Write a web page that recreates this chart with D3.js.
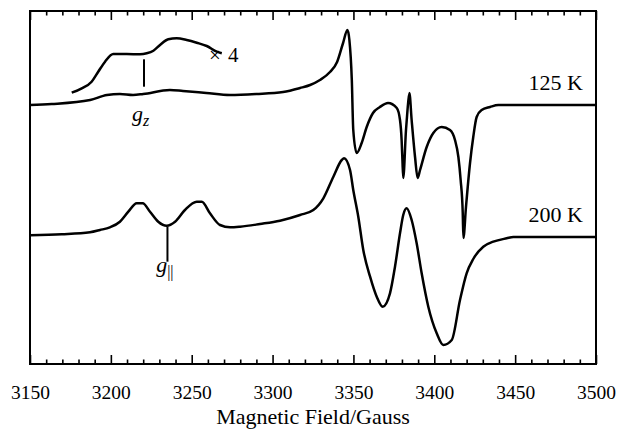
<!DOCTYPE html>
<html>
<head>
<meta charset="utf-8">
<script src="https://cdn.jsdelivr.net/npm/d3@7"></script>
<style>
  body { margin: 0; background: #fff; }
</style>
</head>
<body>
<svg id="chart" width="618" height="431"></svg>
<script>
// --- spectra (field in Gauss, intensity in arbitrary units above each baseline) ---
const field125 = [3150, 3163.4, 3187.2, 3197.6, 3205.6, 3213.7, 3220, 3236.5, 3244.6, 3259, 3273.7, 3290, 3306.5,
    3317, 3323.2, 3329.3, 3335.5, 3339.9, 3343.6, 3346.3, 3347.5, 3349, 3349.9, 3352, 3355.1, 3358.2, 3362.1,
    3366.4, 3371.4, 3376.8, 3378.8, 3379.8, 3380.3, 3380.8, 3382.5, 3383.3, 3384.6, 3386, 3388.1, 3389.7, 3391.2,
    3395.3, 3399.4, 3404.6, 3409.7, 3412.8, 3414.9, 3416.3, 3417.6, 3418, 3419.6, 3422.1, 3424.1, 3426.2, 3429.3,
    3434.5, 3439.6, 3500];
const signal125 = [0, 1, 5, 10, 11, 10, 11, 15, 14, 12, 10, 11, 13,
    17, 20, 25, 33, 43, 62, 75, 65, 25, -25, -48, -38, -22, -8,
    -2, 2, -3, -15, -35, -55, -73, -25, -8, 12, -15, -52, -73, -65,
    -42, -28, -22, -25, -35, -52, -75, -108, -133, -102, -58, -32, -12, -5,
    -2, 0, 0];

// x4 expansion of the low-field part of the 125 K trace
const fieldZoom = [3175.8, 3182, 3188.1, 3192.2, 3196.4, 3201.5, 3209.8, 3218, 3222.2, 3226.3, 3230.4, 3235.5,
    3240.7, 3246.9, 3253.1, 3259.3, 3265.5, 3268.6];
const signalZoom = [12.3, 16.7, 23.3, 33.3, 43.3, 51, 51, 50.7, 51.7, 54.3, 60, 65.7,
    66.7, 65, 62.3, 59, 53.3, 51.7];

const field200 = [3150, 3169.6, 3187.1, 3193.3, 3199.4, 3205.6, 3210.8, 3216, 3219.7, 3224.2, 3229.3, 3234.5,
    3239.7, 3245.8, 3253.1, 3256.2, 3261.3, 3267.5, 3273.7, 3279.9, 3292.2, 3304.6, 3317, 3325.2, 3331.4,
    3337.6, 3342.8, 3344.2, 3347.9, 3349.9, 3353, 3356.1, 3360.3, 3364.4, 3368.1, 3372.6, 3375.7, 3378.8,
    3380.8, 3382.9, 3386, 3389.1, 3392.2, 3396.3, 3401.5, 3405.6, 3410.8, 3415.9, 3420, 3424.1, 3430.3,
    3436.5, 3444.8, 3448.9, 3500];
const signal200 = [1.7, 2.7, 4.7, 7, 9.7, 15.3, 25.3, 33.7, 33.7, 25.3, 15.3, 11.3,
    15.3, 27, 35.3, 35.3, 23.7, 12, 9.7, 10.3, 13, 16.3, 22, 27, 38.7,
    60.3, 77, 78.7, 67, 47, 20.3, -13, -39.7, -59.7, -69.7, -56.3, -29.7, 3.7,
    22, 28.7, 17, -6.3, -36.3, -69.7, -96.3, -108, -103, -63, -36.3, -22, -9.7,
    -4.7, -1.3, 0, 0];

const offsets = { "125 K": 259, "200 K": 127 };
const xTicks = [3150, 3200, 3250, 3300, 3350, 3400, 3450, 3500];

const serif = "Liberation Serif";

const svg = d3.select("#chart"),
    margin = { top: 11, right: 22, bottom: 67, left: 30 },
    width = +svg.attr("width") - margin.left - margin.right,
    height = +svg.attr("height") - margin.top - margin.bottom;

const g = svg.append("g")
    .attr("transform", `translate(${margin.left},${margin.top})`);

const x = d3.scaleLinear()
    .domain([3150, 3500])
    .range([0, width]);

const y = d3.scaleLinear()
    .domain([0, 353])
    .range([height, 0]);

// ticks: major every 50 G, minor every 10 G, on top and bottom, pointing inwards
const minorTicks = d3.range(3150, 3501, 10).filter(v => (v - 3150) % 50 !== 0);

function styleAxis(sel) {
    sel.select(".domain").remove();
    sel.selectAll("line").attr("stroke", "#000").attr("stroke-width", 1.6);
}

g.append("g")
    .attr("transform", `translate(0,${height})`)
    .call(d3.axisBottom(x).tickValues(xTicks).tickSize(-9).tickPadding(21).tickFormat(d3.format("d")))
    .call(styleAxis)
    .attr("font-size", 19.5)
    .attr("font-family", serif)
    .selectAll("text")
    .attr("fill", "#000");

g.append("g")
    .attr("transform", `translate(0,${height})`)
    .call(d3.axisBottom(x).tickValues(minorTicks).tickSize(-4.5).tickFormat(""))
    .call(styleAxis);

g.append("g")
    .call(d3.axisTop(x).tickValues(xTicks).tickSize(-9).tickFormat(""))
    .call(styleAxis);

g.append("g")
    .call(d3.axisTop(x).tickValues(minorTicks).tickSize(-4.5).tickFormat(""))
    .call(styleAxis);

g.append("rect")
    .attr("width", width)
    .attr("height", height)
    .attr("fill", "none")
    .attr("stroke", "#000")
    .attr("stroke-width", 2);

// --- spectra ---
function trace(fields, values, offset) {
    return d3.line()
        .x((d, i) => x(fields[i]))
        .y((d, i) => y(values[i] + offset))
        .curve(d3.curveMonotoneX)(values);
}

[[field125, signal125], [fieldZoom, signalZoom]].forEach(([f, s]) => {
    g.append("path")
        .attr("d", trace(f, s, offsets["125 K"]))
        .attr("fill", "none")
        .attr("stroke", "#000")
        .attr("stroke-width", 2.5)
        .attr("stroke-linejoin", "round");
});

g.append("path")
    .attr("d", trace(field200, signal200, offsets["200 K"]))
    .attr("fill", "none")
    .attr("stroke", "#000")
    .attr("stroke-width", 2.5)
    .attr("stroke-linejoin", "round");

// g-value markers
const markers = [
    { field: 3220.5, from: 18.3, to: 45.7, offset: offsets["125 K"] },
    { field: 3235, from: 10.3, to: -24.7, offset: offsets["200 K"] }
];
g.selectAll(".marker")
    .data(markers)
    .enter()
    .append("line")
    .attr("class", "marker")
    .attr("x1", d => x(d.field))
    .attr("x2", d => x(d.field))
    .attr("y1", d => y(d.from + d.offset))
    .attr("y2", d => y(d.to + d.offset))
    .attr("stroke", "#000")
    .attr("stroke-width", 2);

// labels
const gz = g.append("text")
    .attr("x", x(3213))
    .attr("y", y(offsets["125 K"] - 16))
    .attr("font-size", 22)
    .attr("font-style", "italic")
    .attr("font-family", serif);
gz.append("tspan").text("g");
gz.append("tspan").attr("font-size", 16).attr("dy", 5).text("z");

const gpar = g.append("text")
    .attr("x", x(3228))
    .attr("y", y(offsets["200 K"] - 35))
    .attr("font-size", 22)
    .attr("font-style", "italic")
    .attr("font-family", serif);
gpar.append("tspan").text("g");
gpar.append("tspan").attr("font-size", 16).attr("dy", 5).attr("font-style", "normal").text("||");

g.append("text")
    .attr("x", x(3264.4))
    .attr("y", y(offsets["125 K"] + 43))
    .attr("font-size", 21)
    .attr("text-anchor", "middle")
    .attr("font-family", serif)
    .text("×");
g.append("text")
    .attr("x", x(3272.4))
    .attr("y", y(offsets["125 K"] + 43.3))
    .attr("font-size", 21)
    .attr("font-family", serif)
    .text("4");

g.selectAll(".temp")
    .data(["125 K", "200 K"])
    .enter()
    .append("text")
    .attr("class", "temp")
    .attr("x", width - 13)
    .attr("y", d => y(offsets[d] + 15))
    .attr("text-anchor", "end")
    .attr("font-size", 22)
    .attr("font-family", serif)
    .text(d => d);

svg.append("text")
    .attr("x", margin.left + width / 2)
    .attr("y", 424)
    .attr("text-anchor", "middle")
    .attr("font-size", 22)
    .attr("font-family", serif)
    .text("Magnetic Field/Gauss");
</script>
</body>
</html>
